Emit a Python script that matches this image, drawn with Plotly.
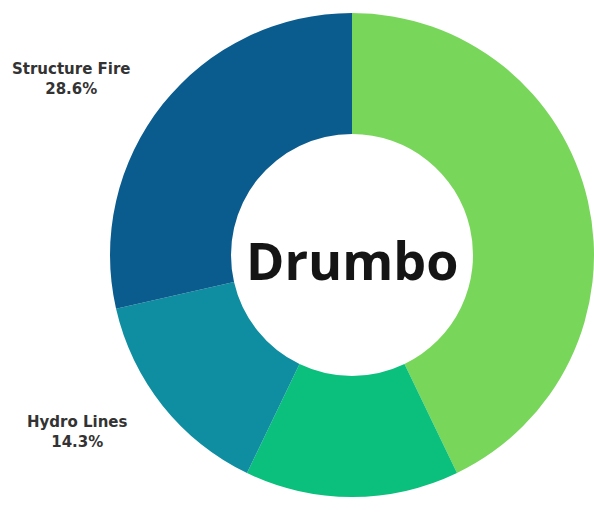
import plotly.graph_objects as go

categories = ["Other A", "Other B", "Hydro Lines", "Structure Fire"]
values = [3, 1, 1, 2]
colors = ["#78d65a", "#0bbf7d", "#0e8ea0", "#0b5c8e"]
center_label = "Drumbo"
shown_labels = ["Structure Fire", "Hydro Lines"]

W, H = 594, 512
cx, cy, r = 352, 255, 242

total = sum(values)
fig = go.Figure(go.Pie(
    labels=categories,
    values=values,
    marker=dict(colors=colors, line=dict(width=0)),
    hole=0.5,
    sort=False,
    direction="clockwise",
    rotation=0,
    textinfo="none",
    hoverinfo="label+percent",
    showlegend=False,
    domain=dict(x=[(cx - r) / W, (cx + r) / W], y=[(H - cy - r) / H, (H - cy + r) / H]),
))

label_pos = {"Structure Fire": (71, 79), "Hydro Lines": (77, 432)}
for name in shown_labels:
    i = categories.index(name)
    pct = values[i] / total * 100
    x, y = label_pos[name]
    fig.add_annotation(
        x=x / W, y=1 - y / H, xref="paper", yref="paper",
        text=f"<b>{name}</b><br><b>{pct:.1f}%</b>",
        showarrow=False, xanchor="center", yanchor="middle",
        font=dict(family="DejaVu Sans", size=15, color="#333333"),
    )

fig.add_annotation(
    x=cx / W, y=1 - 259 / H, xref="paper", yref="paper",
    text=f"<b>{center_label}</b>", showarrow=False,
    xanchor="center", yanchor="middle",
    font=dict(family="Open Sans", size=52, color="#151515"),
)

fig.update_layout(
    width=W, height=H,
    margin=dict(l=0, r=0, t=0, b=0),
    paper_bgcolor="white",
)
fig.write_html("out.html")
